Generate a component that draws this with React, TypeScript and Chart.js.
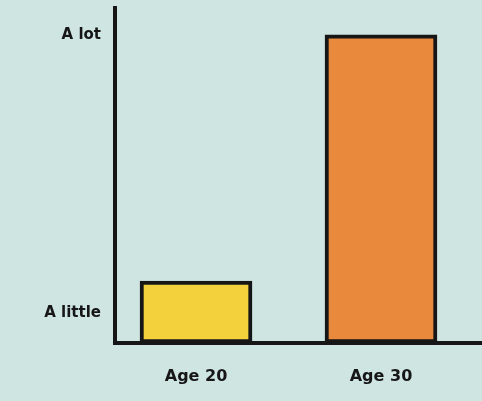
import React, { useEffect, useRef } from "react";
import { Chart, registerables } from "chart.js";

Chart.register(...registerables);

const categories = ["Age 20", "Age 30"];
const values = [18.5, 92];
const barColors = ["#f2d13c", "#e8893b"];
const yTickValues = [9, 92];
const yTickLabels = ["A little", "A lot"];

const BG = "#cfe5e2";
const INK = "#161616";

export default function App() {
  const ref = useRef<HTMLCanvasElement | null>(null);

  useEffect(() => {
    document.body.style.margin = "0";
    document.body.style.background = BG;
    const canvas = ref.current!;
    const chart = new Chart(canvas, {
      type: "bar",
      data: {
        datasets: [
          {
            data: categories.map((_, i) => ({ x: i, y: values[i] })),
            backgroundColor: barColors,
            borderColor: INK,
            borderWidth: 4,
            borderSkipped: false,
            barThickness: 112,
          },
        ],
      },
      options: {
        responsive: false,
        animation: false,
        layout: { padding: { top: 8, right: 0, left: 0, bottom: 0 } },
        plugins: { legend: { display: false }, tooltip: { enabled: false } },
        scales: {
          x: {
            type: "linear",
            offset: false,
            min: -0.438,
            max: 1.546,
            grid: { display: false, drawTicks: false },
            border: { display: true, color: INK, width: 4 },
            afterBuildTicks: (axis: any) => {
              axis.ticks = categories.map((_, i) => ({ value: i }));
            },
            afterFit: (axis: any) => {
              axis.height = 58;
              axis.paddingLeft = 0;
              axis.paddingRight = 0;
            },
            ticks: {
              padding: 24,
              color: INK,
              font: { family: "DejaVu Sans", size: 16, weight: "bold" },
              callback: (v: any) => categories[Math.round(Number(v))] ?? "",
            },
          },
          y: {
            min: 0,
            max: 100,
            grid: { display: false, drawTicks: false },
            border: { display: true, color: INK, width: 4 },
            afterBuildTicks: (axis: any) => {
              axis.ticks = yTickValues.map((v) => ({ value: v }));
            },
            afterFit: (axis: any) => {
              axis.width = 115;
              axis.paddingTop = 0;
              axis.paddingBottom = 0;
            },
            ticks: {
              padding: 14,
              color: INK,
              font: { family: "DejaVu Sans", size: 15, weight: "bold" },
              callback: (_v: any, i: number) => yTickLabels[i],
            },
          },
        },
      },
    });
    return () => chart.destroy();
  }, []);

  return (
    <div style={{ width: 482, height: 401, background: BG }}>
      <canvas ref={ref} width={482} height={401} style={{ display: "block", width: 482, height: 401 }} />
    </div>
  );
}
